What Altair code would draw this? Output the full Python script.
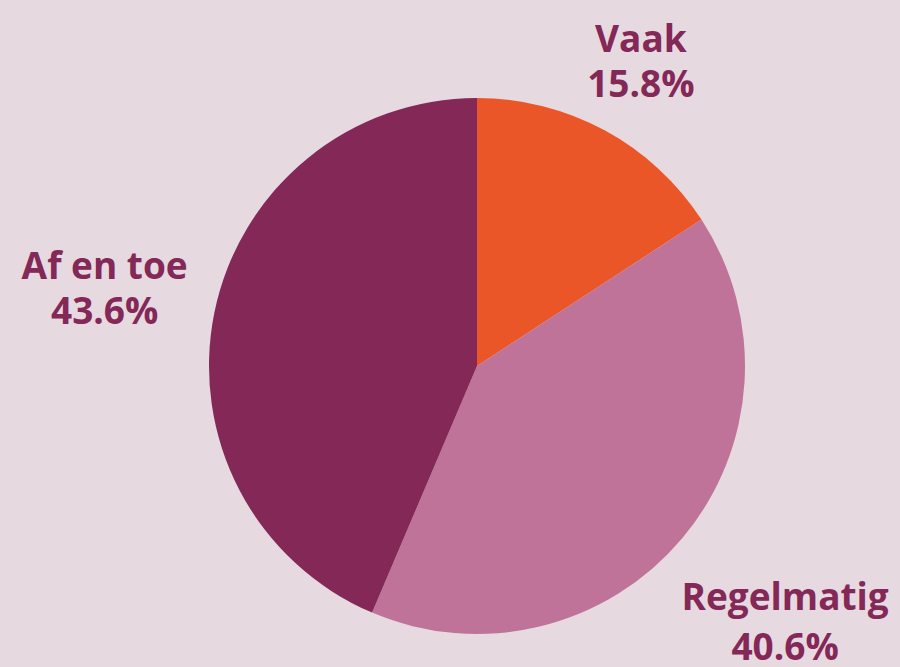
import altair as alt
import pandas as pd
import math

categories = ["Vaak", "Regelmatig", "Af en toe"]
percentages = [15.8, 40.6, 43.6]
colors = ["#EB5628", "#C07399", "#832857"]

df = pd.DataFrame({"categorie": categories, "pct": percentages, "volgorde": [0, 1, 2]})

BG = "#E6D9E0"
TXT = "#832857"
CX, CY, R = 477, 366, 268
theta_scale = alt.Scale(domain=[0, 100], range=[0, 2 * math.pi])

pie = alt.Chart(df).mark_arc(outerRadius=R).encode(
    theta=alt.Theta("pct:Q", stack=True, scale=theta_scale),
    order=alt.Order("volgorde:Q"),
    color=alt.Color("categorie:N", scale=alt.Scale(domain=categories, range=colors), legend=None),
    x=alt.value(CX),
    y=alt.value(CY),
)

label_radius = {"Vaak": 344, "Regelmatig": 402, "Af en toe": 380}
line_height = {"Vaak": 45, "Regelmatig": 50, "Af en toe": 45}
layers = [pie]
for cat in categories:
    LH = line_height[cat]
    t = alt.Chart(df).transform_stack(
        stack="pct", as_=["s0", "s1"], groupby=[], sort=[alt.SortField("volgorde")]
    ).transform_calculate(
        mid="(datum.s0 + datum.s1) / 2",
        label="[datum.categorie, format(datum.pct, '.1f') + '%']",
    ).transform_filter(alt.datum.categorie == cat).mark_text(
        radius=label_radius[cat], font="Open Sans", fontWeight="bold", fontSize=37,
        color=TXT, align="center", baseline="middle", lineHeight=LH, dy=-LH / 2,
    ).encode(
        theta=alt.Theta("mid:Q", scale=theta_scale),
        text="label:N",
        x=alt.value(CX),
        y=alt.value(CY),
    )
    layers.append(t)

chart = alt.layer(*layers).properties(
    width=900, height=667, autosize=alt.AutoSizeParams(type="none"), padding=0,
    background=BG,
).configure_view(stroke=None)

chart.save("out.html", embed_options={"renderer": "svg", "actions": False})
